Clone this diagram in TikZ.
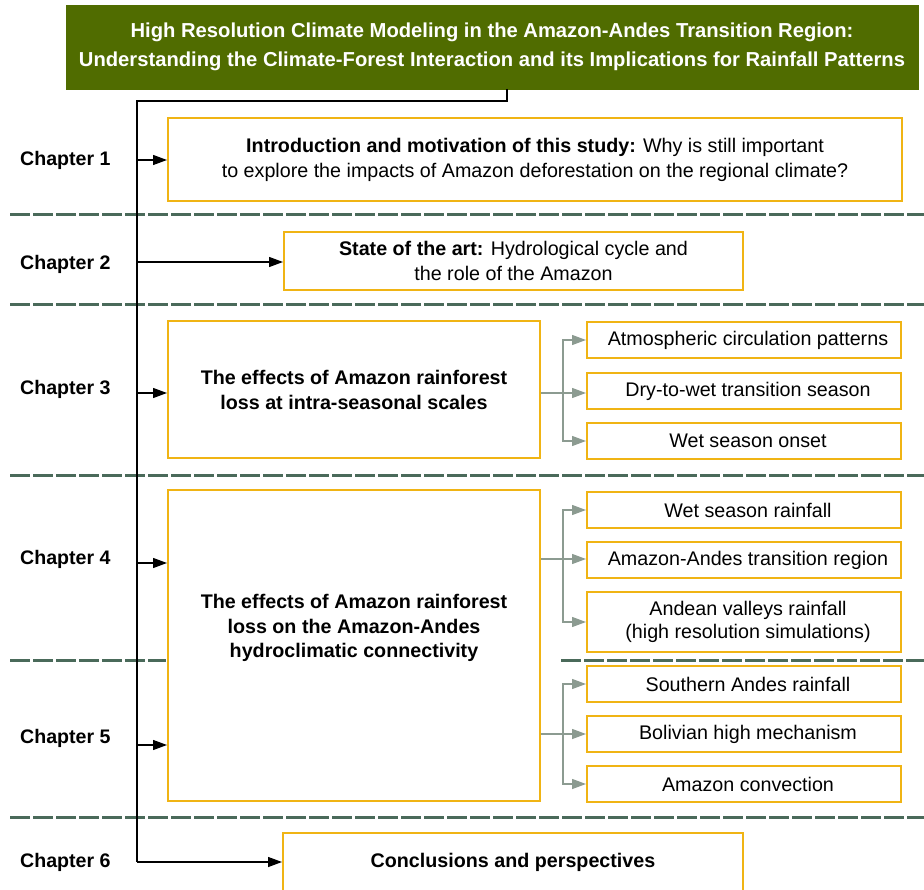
\documentclass[tikz,border=0pt]{standalone}
\usepackage{fontspec}
\setmainfont{Liberation Sans}
\usetikzlibrary{arrows.meta}
\definecolor{olive}{RGB}{80,108,0}
\definecolor{boxyel}{RGB}{240,180,20}
\definecolor{sepgreen}{RGB}{74,106,90}
\definecolor{subgray}{RGB}{140,155,145}
\newcommand{\sh}{\hspace*{8pt}}
\tikzset{
  ybox/.style={draw=boxyel, line width=2pt, fill=white, inner sep=0pt, align=center, font=\fontsize{19.7}{25}\selectfont},
  subbox/.style={ybox, minimum width=314pt, minimum height=36pt},
  chlabel/.style={anchor=west, font=\fontsize{19.6}{22}\selectfont\bfseries, inner sep=0pt},
  sep/.style={draw=sepgreen, line width=3pt, dash pattern=on 20pt off 3pt},
  trunk/.style={draw=black, line width=1.3pt},
  arr/.style={trunk, -{Triangle[length=14pt,width=10pt]}},
  garr/.style={draw=subgray, line width=1.3pt, -{Triangle[length=14pt,width=10pt]}},
  gline/.style={draw=subgray, line width=1.3pt},
}
\begin{document}
\begin{tikzpicture}[x=1pt,y=-1pt]
\useasboundingbox (0,0) rectangle (924,890);
\clip (0,0) rectangle (924,890);
% separators
\draw[sep] (10,215) -- (924,215);
\draw[sep] (10,305) -- (924,305);
\draw[sep] (10,475) -- (924,475);
\draw[sep] (10,660) -- (166,660);
\draw[sep] (561,660) -- (924,660);
\draw[sep] (10,817) -- (924,817);
% title
\node[fill=olive, draw=olive, minimum width=852pt, minimum height=84pt, inner sep=0pt, align=center,
      text=white, font=\fontsize{20.2}{29}\selectfont\bfseries] (title) at (492,47)
  {High Resolution Climate Modeling in the Amazon-Andes Transition Region:\\
   Understanding the Climate-Forest Interaction and its Implications for Rainfall Patterns};
% chapter labels
\node[chlabel] (ch1) at (20,160) {Chapter 1};
\node[chlabel] (ch2) at (20,264) {Chapter 2};
\node[chlabel] (ch3) at (20,389) {Chapter 3};
\node[chlabel] (ch4) at (20,559) {Chapter 4};
\node[chlabel] (ch5) at (20,738) {Chapter 5};
\node[chlabel] (ch6) at (20,862) {Chapter 6};
% main boxes
\node[ybox, minimum width=734pt, minimum height=83pt] (b1) at (535,159.5)
  {\textbf{Introduction and motivation of this study:} Why is still important\\
   to explore the impacts of Amazon deforestation on the regional climate?};
\node[ybox, minimum width=459pt, minimum height=58pt] (b2) at (513.5,261)
  {\textbf{State of the art:} Hydrological cycle and\\ the role of the Amazon};
\node[ybox, minimum width=372pt, minimum height=137pt, font=\fontsize{19.7}{25}\selectfont\bfseries] (b3) at (354,389.5)
  {The effects of Amazon rainforest\\ loss at intra-seasonal scales};
\node[ybox, minimum width=372pt, minimum height=311pt] (b4) at (354,645.5) {};
\node[align=center, inner sep=0pt, font=\fontsize{19.7}{24.5}\selectfont\bfseries] (b4t) at (354,628)
  {The effects of Amazon rainforest\\ loss on the Amazon-Andes\\ hydroclimatic connectivity};
\node[ybox, minimum width=460pt, minimum height=58pt, font=\fontsize{19.7}{25}\selectfont\bfseries] (b6) at (513,862)
  {Conclusions and perspectives};
% sub boxes
\node[subbox] (s1) at (744,340) {\sh Atmospheric circulation patterns};
\node[subbox] (s2) at (744,391) {\sh Dry-to-wet transition season};
\node[subbox] (s3) at (744,441) {\sh Wet season onset};
\node[subbox] (s4) at (744,510) {\sh Wet season rainfall};
\node[subbox] (s5) at (744,560) {\sh Amazon-Andes transition region};
\node[subbox, minimum height=60pt, font=\fontsize{19.7}{23}\selectfont] (s6) at (744,622) {\sh Andean valleys rainfall\\ \sh (high resolution simulations)};
\node[subbox] (s7) at (744,684) {\sh Southern Andes rainfall};
\node[subbox] (s8) at (744,734) {\sh Bolivian high mechanism};
\node[subbox] (s9) at (744,784) {\sh Amazon convection};
% trunk
\coordinate (tb) at (507,89);
\coordinate (tc) at (137,101);
\coordinate (t1) at (137,160);
\coordinate (t2) at (137,262);
\coordinate (t3) at (137,393);
\coordinate (t4) at (137,563);
\coordinate (t5) at (137,745);
\coordinate (t6) at (137,862);
\draw[trunk] (tb) |- (tc) -- (t6);
\draw[arr] (t1) -- (t1 -| b1.west);
\draw[arr] (t2) -- (t2 -| b2.west);
\draw[arr] (t3) -- (t3 -| b3.west);
\draw[arr] (t4) -- (t4 -| b4.west);
\draw[arr] (t5) -- (t5 -| b4.west);
\draw[arr] (t6) -- (t6 -| b6.west);
% gray connectors
\coordinate (g3) at (563,393);
\coordinate (g4) at (563,559);
\coordinate (g5) at (563,734);
\draw[gline] (g3 -| b3.east) -- (g3);
\draw[garr] (g3) |- (s1.west);
\draw[garr] (g3) -- (g3 -| s2.west);
\draw[garr] (g3) |- (s3.west);
\draw[gline] (g4 -| b4.east) -- (g4);
\draw[garr] (g4) |- (s4.west);
\draw[garr] (g4) -- (g4 -| s5.west);
\draw[garr] (g4) |- (s6.west);
\draw[gline] (g5 -| b4.east) -- (g5);
\draw[garr] (g5) |- (s7.west);
\draw[garr] (g5) -- (g5 -| s8.west);
\draw[garr] (g5) |- (s9.west);
\end{tikzpicture}
\end{document}
